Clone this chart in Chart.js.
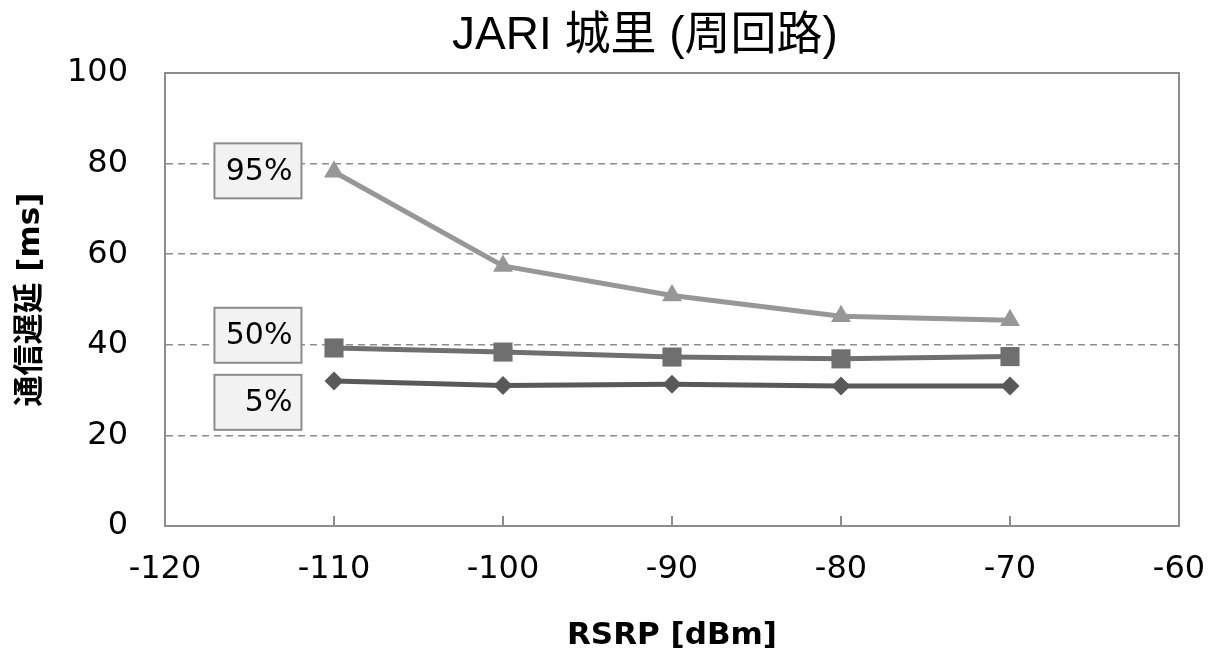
<!DOCTYPE html>
<html>
<head>
<meta charset="utf-8">
<script src="https://cdn.jsdelivr.net/npm/chart.js@4/dist/chart.umd.min.js"></script>
<style>
html,body{margin:0;padding:0;background:#fff;}
#wrap{width:1209px;height:652px;position:relative;}
</style>
</head>
<body>
<div id="wrap"><canvas id="c" width="1209" height="652"></canvas></div>
<script>
// ---- data ----
const titleText = 'JARI 城里 (周回路)';
const xTitle = 'RSRP [dBm]';
const yTitle = '通信遅延 [ms]';
const rsrp = [-110, -100, -90, -80, -70];
const p95 = [78.2, 57.4, 50.9, 46.3, 45.4];
const p50 = [39.3, 38.4, 37.3, 36.9, 37.4];
const p5  = [32.0, 31.0, 31.3, 30.9, 30.9];
const seriesNames = ['95%', '50%', '5%'];
const labelX = -114.5;
const labelY = [78.4, 42.1, 27.3];
const xTicksMin = -120, xTicksMax = -60, xStep = 10;
const yTicksMin = 0, yTicksMax = 100, yStep = 20;

const tickFont = {family: "'DejaVu Sans', 'Noto Sans CJK JP'", size: 32};
const axisTitleFont = {family: "'DejaVu Sans', 'Noto Sans CJK JP'", size: 31, weight: 'bold', lineHeight: 1};

const toPts = (xs, ys) => xs.map((x, i) => ({x: x, y: ys[i]}));

const frame = {
  id: 'frame',
  afterDraw(chart) {
    const {ctx, chartArea: a, scales: {x, y}} = chart;
    ctx.save();
    ctx.strokeStyle = '#8c8c8c';
    ctx.lineWidth = 2;
    ctx.strokeRect(a.left, a.top, a.right - a.left, a.bottom - a.top);
    for (let v = xTicksMin + xStep; v < xTicksMax; v += xStep) {
      const px = Math.round(x.getPixelForValue(v));
      ctx.beginPath();
      ctx.moveTo(px, a.bottom);
      ctx.lineTo(px, a.bottom - 10);
      ctx.stroke();
    }
    ctx.fillStyle = '#000';
    ctx.font = "46px 'Liberation Sans', 'Noto Sans CJK JP'";
    ctx.textAlign = 'center';
    ctx.textBaseline = 'alphabetic';
    ctx.fillText(titleText, 645, 49);
    ctx.restore();
  }
};

const boxes = {
  id: 'boxes',
  afterDatasetsDraw(chart) {
    const {ctx, scales: {x, y}} = chart;
    ctx.save();
    const w = 87, h = 55;
    seriesNames.forEach((name, i) => {
      const cx = x.getPixelForValue(labelX);
      const cy = y.getPixelForValue(labelY[i]);
      ctx.fillStyle = '#f2f2f2';
      ctx.fillRect(cx - w / 2, cy - h / 2, w, h);
      ctx.strokeStyle = '#8c8c8c';
      ctx.lineWidth = 2;
      ctx.strokeRect(cx - w / 2, cy - h / 2, w, h);
      ctx.fillStyle = '#000';
      ctx.font = "30px 'DejaVu Sans'";
      ctx.textAlign = 'right';
      ctx.textBaseline = 'middle';
      ctx.fillText(name, cx + w / 2 - 9, cy + 1);
    });
    ctx.restore();
  }
};

new Chart(document.getElementById('c'), {
  type: 'scatter',
  data: {
    datasets: [
      {label: seriesNames[0], data: toPts(rsrp, p95), showLine: true,
       borderColor: '#979797', backgroundColor: '#979797', borderWidth: 5,
       pointStyle: 'triangle', pointRadius: 11.5, pointBorderWidth: 0, pointHoverRadius: 11.5},
      {label: seriesNames[1], data: toPts(rsrp, p50), showLine: true,
       borderColor: '#6f6f6f', backgroundColor: '#6f6f6f', borderWidth: 5,
       pointStyle: 'rect', pointRadius: 13.5, pointBorderWidth: 0, pointHoverRadius: 13.5},
      {label: seriesNames[2], data: toPts(rsrp, p5), showLine: true,
       borderColor: '#595959', backgroundColor: '#595959', borderWidth: 5,
       pointStyle: 'rectRot', pointRadius: 9.5, pointBorderWidth: 0, pointHoverRadius: 9.5}
    ]
  },
  options: {
    responsive: false,
    animation: false,
    events: [],
    layout: {padding: {left: 0, right: 30, top: 0, bottom: 0}},
    plugins: {
      legend: {display: false},
      tooltip: {enabled: false},
      title: {display: true, text: titleText, color: 'rgba(0,0,0,0)',
        font: {family: "'Liberation Sans', 'Noto Sans CJK JP'", size: 40, weight: 'normal', lineHeight: 1.2},
        padding: {top: 16, bottom: 9}}
    },
    scales: {
      x: {
        type: 'linear', min: xTicksMin, max: xTicksMax,
        ticks: {stepSize: xStep, color: '#000', font: tickFont, padding: 24, maxRotation: 0},
        grid: {display: false, drawTicks: false},
        border: {display: true, color: '#8c8c8c', width: 2},
        title: {display: true, text: xTitle, color: '#000', font: axisTitleFont, padding: {top: 0, bottom: 1}},
        afterFit(s) { s.height = 126; s.paddingRight = 0; s.paddingLeft = 0; }
      },
      y: {
        type: 'linear', min: yTicksMin, max: yTicksMax,
        ticks: {stepSize: yStep, color: '#000', font: tickFont, padding: 37},
        grid: {color: '#8c8c8c', lineWidth: 1.5, drawTicks: false},
        border: {display: true, color: '#8c8c8c', width: 2, dash: [7, 5]},
        title: {display: true, text: yTitle, color: '#000', font: axisTitleFont, padding: {top: 15, bottom: 0}},
        afterFit(s) { s.width = 165; s.paddingTop = 0; s.paddingBottom = 0; }
      }
    }
  },
  plugins: [frame, boxes]
});
</script>
</body>
</html>
